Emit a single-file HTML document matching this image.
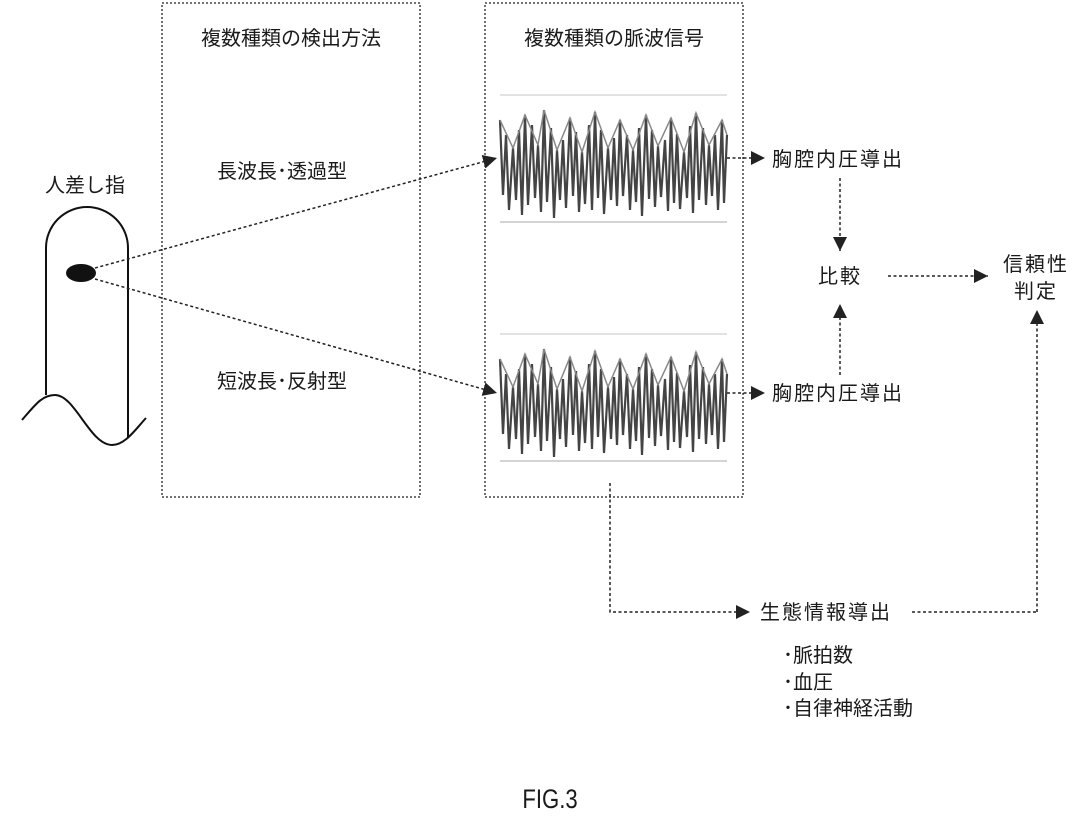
<!DOCTYPE html>
<html><head><meta charset="utf-8"><style>
html,body{margin:0;padding:0;background:#fff;}
svg text{font-family:"Liberation Sans","Noto Sans CJK JP",sans-serif;fill:#1a1a1a;}
</style></head><body>
<svg width="1087" height="819" viewBox="0 0 1087 819" xmlns="http://www.w3.org/2000/svg">
<defs>
<marker id="ah" viewBox="0 0 10 10" refX="10" refY="5" markerWidth="14" markerHeight="14" markerUnits="userSpaceOnUse" orient="auto"><path d="M0,0 L10,5 L0,10 z" fill="#222"/></marker>
<g id="wave">
<line x1="500" y1="95" x2="727" y2="95" stroke="#e2e2e2" stroke-width="2"/>
<line x1="500" y1="222" x2="727" y2="222" stroke="#bbb" stroke-width="1.2"/>
<polyline fill="none" stroke="#444" stroke-width="2.2" points="500,120 503,195 506,135 509,210 513,148 516,200 519,130 522,215 525,115 528,205 532,125 535,198 538,145 541,212 544,110 547,202 551,128 554,218 557,150 560,200 563,140 566,208 570,118 573,196 576,132 579,212 582,152 585,204 589,125 592,210 595,112 598,198 601,130 604,214 608,148 611,200 614,138 617,206 620,120 623,196 627,135 630,210 633,150 636,202 639,128 642,216 646,115 649,199 652,130 655,207 658,146 661,197 665,140 668,211 671,118 674,203 677,134 680,209 684,152 687,198 690,126 693,213 696,113 699,200 703,128 706,205 709,145 712,196 715,135 718,210 722,120 724,203 727,135"/>
<polyline fill="none" stroke="#888" stroke-width="1.5" points="500,120 513,148 525,115 538,145 544,110 557,150 570,118 582,152 595,112 608,148 620,120 633,150 646,115 658,146 671,118 684,152 696,113 709,145 722,120 727,135"/>
</g>
</defs>
<g stroke="#222" stroke-width="1.3" stroke-dasharray="2,2" fill="none">
<rect x="162" y="3" width="258" height="494"/>
<rect x="485" y="3" width="258" height="494"/>
</g>
<text x="291" y="45" font-size="20" text-anchor="middle">複数種類の検出方法</text>
<text x="614" y="45" font-size="20" text-anchor="middle">複数種類の脈波信号</text>
<text x="282" y="178" font-size="20" text-anchor="middle">長波長･透過型</text>
<text x="282" y="388" font-size="20" text-anchor="middle">短波長･反射型</text>
<text x="85" y="192" font-size="20" text-anchor="middle">人差し指</text>
<path d="M46,395 L46,248 A41,41 0 0 1 128,248 L128,438" fill="none" stroke="#111" stroke-width="2"/>
<path d="M22,420 C35,405 42,395 55,395 C75,395 90,445 112,445 C125,445 135,430 146,418" fill="none" stroke="#111" stroke-width="2"/>
<ellipse cx="81" cy="273" rx="15" ry="9" fill="#111"/>
<use href="#wave"/>
<use href="#wave" transform="translate(0,239)"/>
<g stroke="#222" stroke-width="1.5" stroke-dasharray="3,2.5" fill="none" marker-end="url(#ah)">
<line x1="95" y1="268" x2="497" y2="158"/>
<line x1="95" y1="279" x2="497" y2="393"/>
<line x1="727" y1="158" x2="765" y2="158"/>
<line x1="727" y1="393" x2="765" y2="393"/>
<line x1="840" y1="178" x2="840" y2="251"/>
<line x1="840" y1="375" x2="840" y2="304"/>
<line x1="888" y1="276" x2="988" y2="276"/>
<line x1="1037" y1="612" x2="1037" y2="310"/>
<polyline points="610,483 610,612 750,612"/>
</g>
<line x1="912" y1="612" x2="1037" y2="612" stroke="#222" stroke-width="1.5" stroke-dasharray="3,2.5"/>
<text x="772" y="166" font-size="20" letter-spacing="2">胸腔内圧導出</text>
<text x="772" y="400" font-size="20" letter-spacing="2">胸腔内圧導出</text>
<text x="840" y="283" font-size="20" text-anchor="middle" letter-spacing="2">比較</text>
<text x="1036" y="271" font-size="20" text-anchor="middle" letter-spacing="2">信頼性</text>
<text x="1036" y="298" font-size="20" text-anchor="middle" letter-spacing="2">判定</text>
<text x="760" y="619" font-size="20" letter-spacing="2">生態情報導出</text>
<text x="783" y="662" font-size="20">･脈拍数</text>
<text x="783" y="689" font-size="20">･血圧</text>
<text x="783" y="715" font-size="20">･自律神経活動</text>
<text x="550" y="808" font-size="27" text-anchor="middle" transform="translate(550,0) scale(0.82,1) translate(-550,0)">FIG.3</text>
</svg>
</body></html>
